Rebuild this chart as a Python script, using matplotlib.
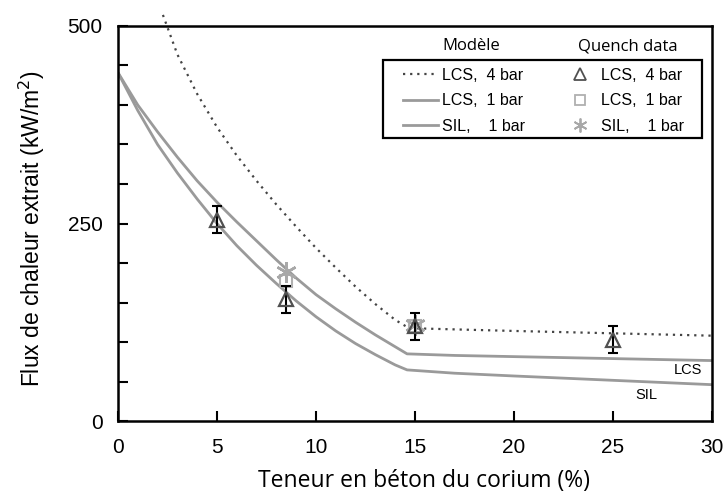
import numpy as np
import matplotlib.pyplot as plt
from matplotlib.lines import Line2D
from matplotlib.patches import Rectangle

# model curves
x_lcs4 = [2.27, 3, 4, 5, 6, 7, 8, 9, 10, 11, 12, 13, 14, 14.7, 20, 25, 30]
y_lcs4 = [514, 464, 414, 372, 336, 304, 274, 246, 219, 194, 170, 148, 128, 117.5, 114, 111, 108]

x_lcs1 = [0, 1, 2, 3, 4, 5, 6, 7, 8, 9, 10, 11, 12, 13, 14, 14.6, 17, 20, 25, 30]
y_lcs1 = [441, 400, 366, 334, 304, 277, 252, 228, 204, 181, 160, 142, 125, 109, 94, 85, 83, 81.5, 79, 76.5]

x_sil1 = [0, 1, 2, 3, 4, 5, 6, 7, 8, 9, 10, 11, 12, 13, 14, 14.6, 17, 20, 25, 30]
y_sil1 = [441, 393, 350, 314, 281, 250, 222, 197, 174, 152, 132, 114, 98, 84, 71, 64.7, 60.5, 57, 51.5, 46]

# quench data
xq_lcs4 = [5, 8.5, 15, 25]
yq_lcs4 = [255, 154, 120, 103]
eq_lcs4 = [17, 17.5, 17, 17]
xq_lcs1 = [8.5, 15]
yq_lcs1 = [177, 120]
xq_sil1 = [8.5, 15]
yq_sil1 = [188, 121]

plt.rcParams['font.family'] = ['Liberation Sans', 'DejaVu Sans']

fig = plt.figure(figsize=(7.26, 4.98), dpi=100)
ax = fig.add_axes([0.1625, 0.1546, 0.8182, 0.7932])

ax.plot(x_lcs4, y_lcs4, color='#444444', lw=1.6, linestyle=(0, (1, 2.2)), clip_on=False)
ax.plot(x_lcs1, y_lcs1, color='#9a9a9a', lw=2)
ax.plot(x_sil1, y_sil1, color='#9a9a9a', lw=2)

ax.plot(xq_lcs1, yq_lcs1, 's', ms=8, mfc='none', mec='#b0b0b0', mew=1.5)
ax.plot(xq_sil1, yq_sil1, marker=(6, 2, 0), ls='none', ms=15, color='#a8a8a8', mew=1.8)
ax.errorbar(xq_lcs4, yq_lcs4, yerr=eq_lcs4, fmt='none', ecolor='black', elinewidth=1.5,
            capsize=3.5, capthick=1.5)
ax.plot(xq_lcs4, yq_lcs4, '^', ms=10, mfc='none', mec='#505050', mew=1.6)

ax.text(28.8, 64, 'LCS', fontsize=10.5, ha='center', va='center')
ax.text(26.7, 33, 'SIL', fontsize=10.5, ha='center', va='center')

ax.set_xlim(0, 30)
ax.set_ylim(0, 500)
ax.set_xticks([0, 5, 10, 15, 20, 25, 30])
ax.set_yticks([0, 250, 500])
ax.set_yticks(np.arange(50, 500, 50), minor=True)
ax.tick_params(direction='in', length=7, width=1.5, labelsize=15)
ax.tick_params(axis='x', pad=12)
ax.tick_params(axis='y', pad=11)
ax.tick_params(which='minor', direction='in', length=7, width=1.5)
for s in ax.spines.values():
    s.set_linewidth(1.8)

ax.set_xlabel('Teneur en béton du corium (%)', fontsize=16.5, family=['Open Sans', 'DejaVu Sans'],
              labelpad=9)
ax.xaxis.label.set_x(0.516)
ax.set_ylabel('Flux de chaleur extrait (kW/m$^2$)', fontsize=16.5, labelpad=15)
ax.yaxis.label.set_y(0.486)

# legend: frame drawn separately, entries in two columns
ax.add_patch(Rectangle((0.446, 0.716), 0.537, 0.198, transform=ax.transAxes, fc='white',
                       ec='black', lw=1.6, zorder=4))
handles = [Line2D([], [], color='#444444', lw=1.6, linestyle=(0, (1, 2.2))),
           Line2D([], [], color='#9a9a9a', lw=2),
           Line2D([], [], color='#9a9a9a', lw=2),
           Line2D([], [], marker='^', ls='none', ms=8, mfc='none', mec='#505050', mew=1.3),
           Line2D([], [], marker='s', ls='none', ms=7, mfc='none', mec='#b0b0b0', mew=1.3),
           Line2D([], [], marker=(6, 2, 0), ls='none', ms=10, color='#a8a8a8', mew=1.3)]
labels = ['LCS,  4 bar', 'LCS,  1 bar', 'SIL,    1 bar',
          'LCS,  4 bar', 'LCS,  1 bar', 'SIL,    1 bar']
leg = ax.legend(handles, labels, ncol=2, loc='upper left', bbox_to_anchor=(0.480, 0.894),
                borderaxespad=0, borderpad=0, fontsize=11.5, handlelength=2.2,
                handletextpad=0.25, columnspacing=2.3, labelspacing=0.65, frameon=False)
leg.set_zorder(5)

ax.text(0.594, 0.949, 'Modèle', transform=ax.transAxes, fontsize=12, ha='center', va='center',
        family=['Open Sans', 'DejaVu Sans'])
ax.text(0.859, 0.949, 'Quench data', transform=ax.transAxes, fontsize=12, ha='center', va='center',
        family=['Open Sans', 'DejaVu Sans'])

fig.savefig('out.png', dpi=100)
